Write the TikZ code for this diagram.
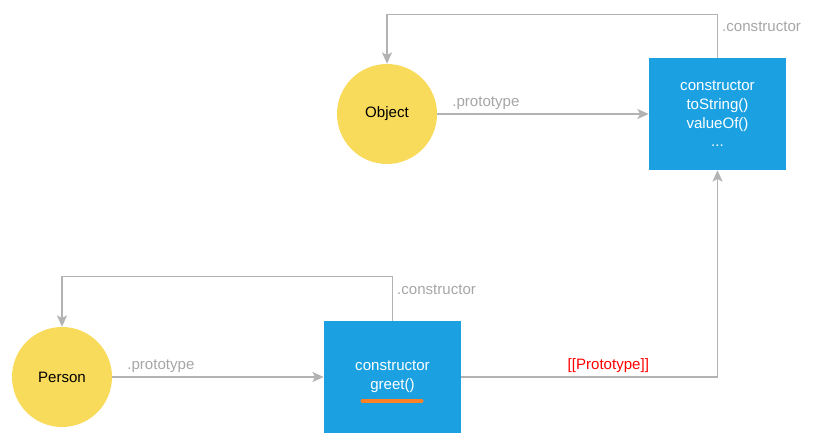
\documentclass[tikz,border=0pt]{standalone}
\usepackage{fontspec}
\setmainfont{Liberation Sans}
\usepackage{xcolor}
\usetikzlibrary{arrows.meta,calc,positioning}
\definecolor{protoyellow}{HTML}{F9DB5C}
\definecolor{protoblue}{HTML}{1BA1E2}
\definecolor{protogray}{HTML}{B3B3B3}
\definecolor{prototext}{HTML}{A6A6A6}
\definecolor{protoorange}{HTML}{FF8124}
\tikzset{
  every picture/.append style={line cap=round,line join=round},
  proto circle/.style={circle,fill=protoyellow,minimum size=75pt,inner sep=0pt,font=\fontsize{11.3}{14}\selectfont},
  proto box/.style={rectangle,fill=protoblue,text=white,minimum width=102.75pt,minimum height=84pt,align=center,font=\fontsize{11.3}{14}\selectfont},
  proto link/.style={protogray,line width=1.1pt,line cap=butt,line join=miter,-{Stealth[length=8.5pt,width=7.5pt,inset=2pt]}},
  proto label/.style={text=prototext,font=\fontsize{11.3}{13}\selectfont,inner sep=2pt},
  proto chain/.style={text=red,font=\fontsize{11.3}{13}\selectfont,inner sep=2pt},
  proto mark/.style={protoorange,line width=3pt}
}
\begin{document}
\begin{tikzpicture}[x=0.75pt,y=-0.75pt]
  \useasboundingbox (0,0) rectangle (814,442);
  % Object and its prototype
  \node[proto circle] (object) at (387,114) {Object};
  \node[proto box] (objproto) at (717.5,114) {constructor\\toString()\\valueOf()\\...};
  \draw[proto link] (object) -- node[proto label,pos=0.23,above=1pt] {.prototype} (objproto);
  \draw[proto link] (objproto.north) -- node[proto label,pos=0.72,right=1pt] {.constructor} ++(0,-43) -| (object.north);
  % Person and its prototype
  \node[proto circle] (person) at (62,377) {Person};
  \node[proto box] (personproto) at (392.5,377) {constructor\\greet()};
  \draw[proto mark] ($(personproto.center)+(-30,24)$) -- ++(59,0);
  \draw[proto link] (person) -- node[proto label,pos=0.23,above=1pt] {.prototype} (personproto);
  \draw[proto link] (personproto.north) -- node[proto label,pos=0.7,right=1pt] {.constructor} ++(0,-44) -| (person.north);
  \draw[proto link] (personproto.east) -| node[proto chain,pos=0.287,above=1pt] {[[Prototype]]} (objproto.south);
\end{tikzpicture}
\end{document}
